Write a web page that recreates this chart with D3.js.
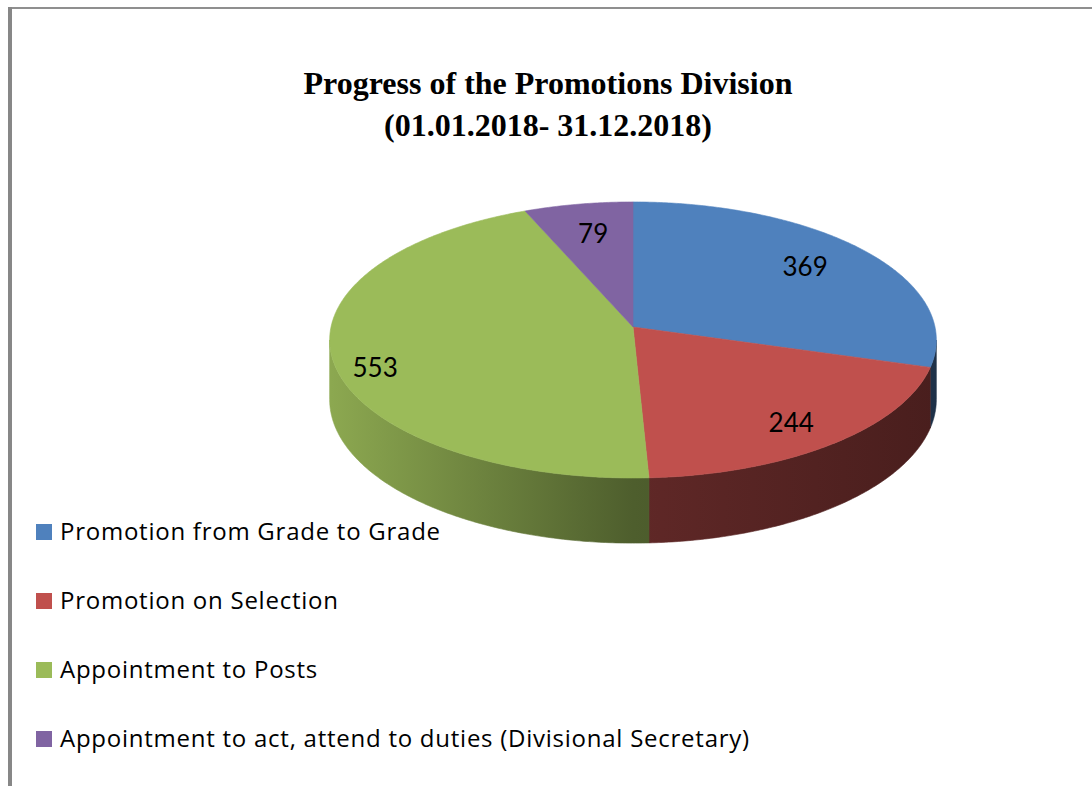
<!DOCTYPE html>
<html>
<head>
<meta charset="utf-8">
<script src="https://cdn.jsdelivr.net/npm/d3@7"></script>
<style>
  body { margin: 0; background: #fff; }
  svg { display: block; }
</style>
</head>
<body>
<svg id="drawing_region"></svg>
<script>
// data
const categories = [
    "Promotion from Grade to Grade",
    "Promotion on Selection",
    "Appointment to Posts",
    "Appointment to act, attend to duties (Divisional Secretary)"
];
const values = [369, 244, 553, 79];
const colors = ["#4F81BD", "#C0504D", "#9BBB59", "#8064A2"];
const titleLines = ["Progress of the Promotions Division", "(01.01.2018- 31.12.2018)"];

const config = {
    width: 1092,
    height: 786,
    cx: 633,          // projected centre of the pie
    cy: 327,
    rx: 302,
    ry: 136.8,
    persp: 0.094,     // perspective strength (front looks bigger)
    depth: 59,
    labelR: [0.74, 0.8, 0.86, 0.71],
    labelDy: [-2, 4, 14, -4]
};

const svg = d3.select('#drawing_region')
    .attr('width', config.width)
    .attr('height', config.height);

// frame lines (top and left) like the page border
svg.append('rect').attr('x', 8).attr('y', 7).attr('width', config.width - 8).attr('height', 2).attr('fill', '#8f8f8f');
svg.append('rect').attr('x', 8).attr('y', 7).attr('width', 4).attr('height', config.height - 7).attr('fill', '#878787');

// title
svg.append('g').selectAll('text')
    .data(titleLines)
    .enter()
    .append('text')
    .attr('x', 548)
    .attr('y', (d, i) => 94 + i * 42)
    .attr('text-anchor', 'middle')
    .attr('font-family', '"Liberation Serif", "Times New Roman", serif')
    .attr('font-weight', 'bold')
    .attr('font-size', '32px')
    .attr('fill', '#000')
    .text(d => d);

// perspective projection of a point on the pie disc
function project(theta, r, dz) {
    const u = r * Math.sin(theta);
    const v = -r * Math.cos(theta);
    const w = 1 - config.persp * v;
    return [
        config.cx + config.rx * u / w,
        config.cy + config.ry * v / w + (dz || 0) / w
    ];
}

function samples(a0, a1) {
    const n = Math.max(2, Math.ceil((a1 - a0) / 0.01));
    return d3.range(n + 1).map(i => a0 + (a1 - a0) * i / n);
}

const pie = d3.pie().sort(null).value(d => d)(values);
const line = d3.line();

// shading gradients for the side walls
const defs = svg.append('defs');
colors.forEach((c, i) => {
    const g = defs.append('linearGradient')
        .attr('id', 'side' + i)
        .attr('gradientUnits', 'userSpaceOnUse')
        .attr('x1', config.cx - config.rx).attr('x2', config.cx + config.rx)
        .attr('y1', 0).attr('y2', 0);
    const stops = [[0, 0.9], [0.5, 0.5], [1, 0.38]];
    stops.forEach(s => {
        const col = d3.rgb(c);
        g.append('stop')
            .attr('offset', s[0])
            .attr('stop-color', d3.rgb(col.r * s[1], col.g * s[1], col.b * s[1]).formatHex());
    });
});

// visible range of the outer wall (between the silhouette tangents)
const tan = Math.acos(-config.persp);
const visA = tan, visB = 2 * Math.PI - tan;

const wallG = svg.append('g');
pie.forEach((d, i) => {
    const a0 = Math.max(d.startAngle, visA);
    const a1 = Math.min(d.endAngle, visB);
    if (a1 <= a0) return;
    const ts = samples(a0, a1);
    const top = ts.map(t => project(t, 1));
    const bottom = ts.slice().reverse().map(t => project(t, 1, config.depth));
    wallG.append('path')
        .attr('d', line(top.concat(bottom)) + 'Z')
        .attr('fill', 'url(#side' + i + ')')
        .attr('stroke', 'url(#side' + i + ')')
        .attr('stroke-width', 0.6);
});

// top faces
const topG = svg.append('g');
pie.forEach((d, i) => {
    const pts = [project(0, 0)].concat(samples(d.startAngle, d.endAngle).map(t => project(t, 1)));
    topG.append('path')
        .attr('d', line(pts) + 'Z')
        .attr('fill', colors[i])
        .attr('stroke', colors[i])
        .attr('stroke-width', 0.6);
});

// value labels
svg.append('g').selectAll('text')
    .data(pie)
    .enter()
    .append('text')
    .attr('x', (d, i) => project((d.startAngle + d.endAngle) / 2, config.labelR[i])[0])
    .attr('y', (d, i) => project((d.startAngle + d.endAngle) / 2, config.labelR[i])[1] + config.labelDy[i])
    .attr('dy', '0.36em')
    .attr('text-anchor', 'middle')
    .attr('font-family', 'Lato, "Open Sans", sans-serif')
    .attr('font-size', '26px')
    .attr('fill', '#000')
    .text(d => d.data);

// legend
const legend = svg.append('g').selectAll('g')
    .data(categories)
    .enter()
    .append('g')
    .attr('transform', (d, i) => `translate(36, ${532 + i * 69})`);

legend.append('rect')
    .attr('x', 0).attr('y', -8)
    .attr('width', 16).attr('height', 16)
    .attr('fill', (d, i) => colors[i]);

legend.append('text')
    .attr('x', 24)
    .attr('y', 8)
    .attr('font-family', '"Open Sans", Lato, sans-serif')
    .attr('font-size', '24px')
    .attr('letter-spacing', '0.75px')
    .attr('fill', '#000')
    .text(d => d);
</script>
</body>
</html>
